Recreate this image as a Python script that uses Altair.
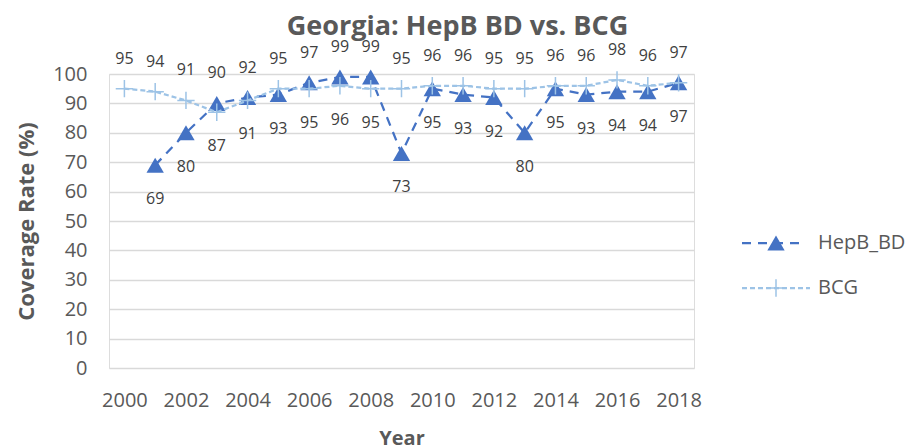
import altair as alt
import pandas as pd

# ---- data ----
years = list(range(2000, 2019))
hepb_bd = [None, 69, 80, 90, 92, 93, 97, 99, 99, 73, 95, 93, 92, 80, 95, 93, 94, 94, 97]
bcg = [95, 94, 91, 87, 91, 95, 95, 96, 95, 95, 96, 96, 95, 95, 96, 96, 98, 96, 97]
series_names = ["HepB_BD", "BCG"]
x_ticks = list(range(2000, 2019, 2))
y_ticks = list(range(0, 101, 10))

HEPB_COLOR = "#4472C4"
BCG_COLOR = "#9DC3E6"
TEXT = "#595959"
LABEL = "#404040"
FONT = "Open Sans"

# long table
rows = []
for i, yr in enumerate(years):
    h, b = hepb_bd[i], bcg[i]
    if h is not None:
        rows.append({"Year": yr, "Series": "HepB_BD", "Value": h,
                     "above": (b is None) or (h > b)})
    if b is not None:
        rows.append({"Year": yr, "Series": "BCG", "Value": b,
                     "above": (h is None) or (b >= h)})
df = pd.DataFrame(rows)
df_h = df[df.Series == "HepB_BD"]
df_b = df[df.Series == "BCG"]

x_enc = alt.X("Year:Q", scale=alt.Scale(domain=[1999.5, 2018.5], nice=False, zero=False),
              axis=alt.Axis(values=x_ticks, format="d", title="Year", grid=False,
                            domain=False, ticks=False, labelPadding=22, labelOverlap=False,
                            labelFontSize=20, labelColor=TEXT, labelFont=FONT,
                            titleFont=FONT, titleFontSize=20, titleFontWeight="bold",
                            titleColor=TEXT, titlePadding=18))
y_enc = alt.Y("Value:Q", scale=alt.Scale(domain=[0, 100], nice=False),
              axis=alt.Axis(values=y_ticks, tickCount=11, title="Coverage Rate (%)", grid=True,
                            gridColor="#D9D9D9", gridWidth=1.5, labelOverlap=False,
                            domain=False, ticks=False, labelPadding=22,
                            labelFontSize=20, labelColor=TEXT, labelFont=FONT,
                            titleFont=FONT, titleFontSize=22, titleFontWeight="bold",
                            titleColor=TEXT, titlePadding=14))

base_h = alt.Chart(df_h).encode(x=x_enc, y=y_enc)
base_b = alt.Chart(df_b).encode(x=x_enc, y=y_enc)

line_h = base_h.mark_line(color=HEPB_COLOR, strokeWidth=2.25, strokeDash=[9, 7])
pt_h = base_h.mark_point(shape="triangle-up", size=300, filled=True, opacity=1, color=HEPB_COLOR)
line_b = base_b.mark_line(color=BCG_COLOR, strokeWidth=2.25, strokeDash=[5, 3])
CROSS = "M-1,0L1,0M0,-1L0,1"
pt_b = base_b.mark_point(shape=CROSS, size=300, filled=False, opacity=1,
                         color=BCG_COLOR, strokeWidth=1.5)

lab_above = alt.Chart(df[df.above]).mark_text(font=FONT, fontSize=16, color=LABEL,
                                              dy=-30, baseline="middle").encode(
    x=x_enc, y=y_enc, text="Value:Q")
lab_below = alt.Chart(df[~df.above]).mark_text(font=FONT, fontSize=16, color=LABEL,
                                               dy=34, baseline="middle").encode(
    x=x_enc, y=y_enc, text="Value:Q")

# manual legend (Excel-style)
leg = pd.DataFrame({"Series": [series_names[0]]})
leg2 = pd.DataFrame({"Series": [series_names[1]]})
lg_h_line = alt.Chart(leg).mark_rule(color=HEPB_COLOR, strokeWidth=2.25, strokeDash=[9, 7]).encode(
    x=alt.value(633), x2=alt.value(697), y=alt.value(169))
lg_h_pt = alt.Chart(leg).mark_point(shape="triangle-up", size=300, filled=True, opacity=1,
                                    color=HEPB_COLOR).encode(x=alt.value(667), y=alt.value(169))
lg_h_txt = alt.Chart(leg).mark_text(font=FONT, fontSize=20, color=TEXT, align="left",
                                    baseline="middle").encode(
    x=alt.value(709), y=alt.value(169), text="Series:N")
lg_b_line = alt.Chart(leg2).mark_rule(color=BCG_COLOR, strokeWidth=2.25, strokeDash=[5, 3]).encode(
    x=alt.value(633), x2=alt.value(701), y=alt.value(214))
lg_b_pt = alt.Chart(leg2).mark_point(shape=CROSS, size=300, filled=False, opacity=1,
                                     color=BCG_COLOR, strokeWidth=1.5).encode(x=alt.value(667), y=alt.value(214))
lg_b_txt = alt.Chart(leg2).mark_text(font=FONT, fontSize=20, color=TEXT, align="left",
                                     baseline="middle").encode(
    x=alt.value(709), y=alt.value(214), text="Series:N")

chart = alt.layer(
    line_h, pt_h, line_b, pt_b, lab_above, lab_below,
    lg_h_line, lg_h_pt, lg_h_txt, lg_b_line, lg_b_pt, lg_b_txt
).properties(
    width=585, height=294,
    title=alt.TitleParams("Georgia: HepB BD vs. BCG", font=FONT, fontSize=27,
                          fontWeight="bold", color=TEXT, anchor="middle", dx=56, offset=-2),
    autosize=alt.AutoSizeParams(type="none"),
    padding={"left": 101, "top": 66, "right": 211, "bottom": 77},
).configure_view(stroke=None).configure(background="white")

chart.save("out.html", embed_options={"renderer": "svg", "actions": False})
